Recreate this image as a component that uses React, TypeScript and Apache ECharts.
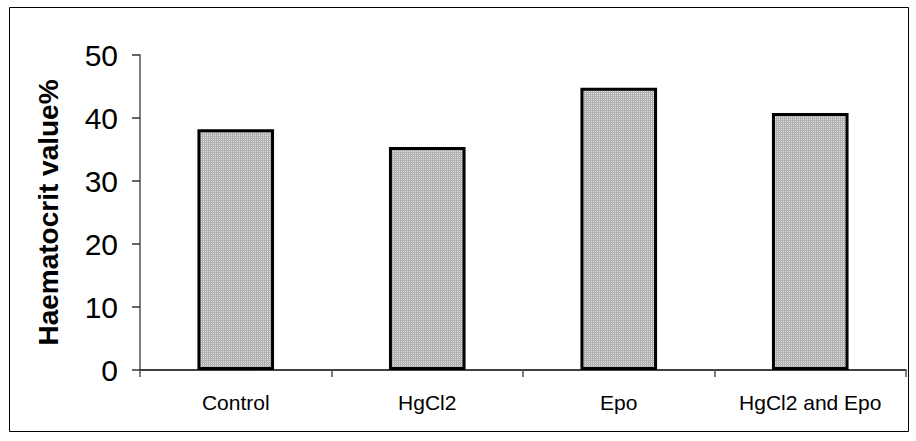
import React, { useEffect, useRef } from "react";
import * as echarts from "echarts";

const categories = ["Control", "HgCl2", "Epo", "HgCl2 and Epo"];
const values = [38.2, 35.4, 44.8, 40.8];
const yTicks = [0, 10, 20, 30, 40, 50];
const yName = "Haematocrit value%";

function makePattern(): HTMLCanvasElement {
  const c = document.createElement("canvas");
  c.width = 2;
  c.height = 2;
  const ctx = c.getContext("2d")!;
  ctx.fillStyle = "#b0b0b0";
  ctx.fillRect(0, 0, 2, 2);
  ctx.fillStyle = "#e2e2e2";
  ctx.fillRect(1, 1, 1, 1);
  return c;
}

export default function App() {
  const ref = useRef<HTMLDivElement>(null);
  useEffect(() => {
    if (!ref.current) return;
    const chart = echarts.init(ref.current, null, { renderer: "svg" });
    chart.setOption({
      animation: false,
      backgroundColor: "#ffffff",
      grid: { left: 140, right: 10, top: 55, bottom: 71, containLabel: false },
      graphic: [
        {
          type: "rect",
          shape: { x: 9.5, y: 7.5, width: 899, height: 424 },
          style: { fill: "none", stroke: "#000", lineWidth: 1 },
          silent: true,
        },
      ],
      xAxis: {
        type: "category",
        data: categories,
        axisLine: { lineStyle: { color: "#000", width: 1.5 } },
        axisTick: { show: true, alignWithLabel: false, length: 7, lineStyle: { color: "#555", width: 1.5 } },
        axisLabel: {
          margin: 22,
          color: "#000",
          fontFamily: "Liberation Sans, Arial, sans-serif",
          fontSize: 21,
          interval: 0,
        },
      },
      yAxis: {
        type: "value",
        min: 0,
        max: 50,
        interval: 10,
        name: yName,
        nameLocation: "middle",
        nameGap: 78,
        nameTextStyle: {
          color: "#000",
          fontFamily: "Liberation Sans, Arial, sans-serif",
          fontSize: 28,
          fontWeight: "bold",
        },
        splitLine: { show: false },
        axisLine: { show: true, lineStyle: { color: "#555", width: 1.5 } },
        axisTick: { show: true, length: 8, lineStyle: { color: "#333", width: 1.5 } },
        axisLabel: {
          margin: 22,
          color: "#000",
          fontFamily: "Liberation Sans, Arial, sans-serif",
          fontSize: 30,
          formatter: (v: number) => (yTicks.includes(v) ? String(v) : ""),
        },
      },
      series: [
        {
          type: "bar",
          data: values,
          barWidth: "40%",
          itemStyle: {
            color: { image: makePattern(), repeat: "repeat" },
            borderColor: "#000",
            borderWidth: 3,
          },
        },
      ],
    });
    return () => chart.dispose();
  }, []);
  return (
    <div
      ref={ref}
      style={{ position: "fixed", left: 0, top: 0, width: 916, height: 441 }}
    />
  );
}
